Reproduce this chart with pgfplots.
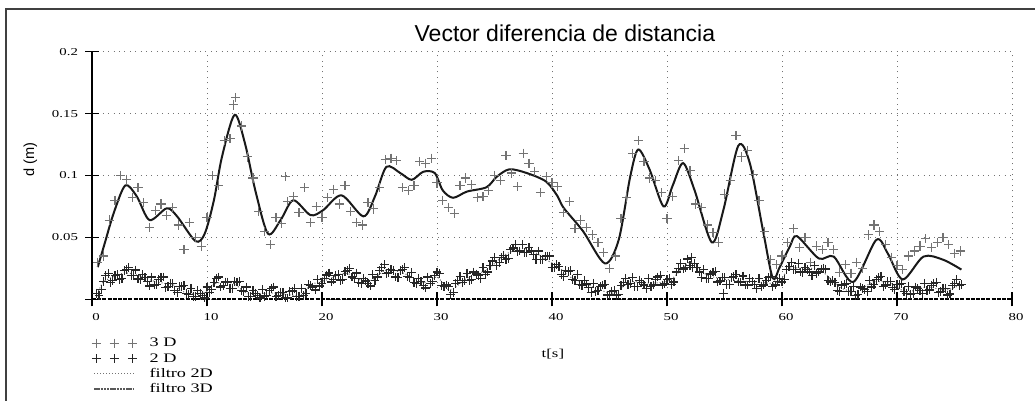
\documentclass[border=0pt]{standalone}
\usepackage{fontspec}
\setmainfont{Liberation Serif}
\newfontfamily\arial{Liberation Sans}
\newfontfamily\legfont[FakeStretch=1.4]{Liberation Serif}
\usepackage{pgfplots}
\usepackage{pgfplotstable}
\pgfplotsset{compat=1.18}
\pgfplotsset{
  crosslegend/.style={legend image code/.code={\draw[##1] plot coordinates {(1pt,0pt) (10pt,0pt) (19pt,0pt)};}},
  dotlegend/.style={legend image code/.code={\draw[black!55, line width=0.5pt, dash pattern=on 0.6pt off 0.9pt] (0pt,0pt) -- (20pt,0pt);}},
  dashlegend/.style={legend image code/.code={\draw[black!65, line width=0.7pt, dash pattern=on 1.2pt off 0.4pt] (0pt,0pt) -- (20pt,0pt);}},
}

% 3D measurements (light crosses)
\pgfplotstableread{
x y
0.5 0.030
1.0 0.035
1.5 0.064
2.0 0.080
2.5 0.100
3.0 0.097
3.5 0.082
4.0 0.090
4.5 0.078
5.0 0.058
5.5 0.072
6.0 0.077
6.5 0.068
7.0 0.074
7.5 0.060
8.0 0.040
8.5 0.062
9.0 0.050
9.5 0.043
10.0 0.066
10.5 0.100
11.0 0.092
11.5 0.128
12.0 0.130
12.3 0.157
12.5 0.163
13.0 0.140
13.5 0.115
14.0 0.098
14.5 0.071
15.0 0.055
15.5 0.044
16.0 0.066
16.5 0.061
16.8 0.099
17.0 0.079
17.5 0.083
18.0 0.070
18.5 0.090
19.0 0.062
19.5 0.075
20.0 0.066
20.5 0.082
21.0 0.089
21.5 0.077
22.0 0.092
22.5 0.071
23.0 0.062
23.5 0.060
24.0 0.078
24.5 0.073
25.0 0.090
25.5 0.113
26.0 0.114
26.5 0.112
27.0 0.090
27.5 0.088
28.0 0.092
28.5 0.111
29.0 0.110
29.5 0.114
30.0 0.094
30.5 0.080
31.0 0.074
31.5 0.069
32.0 0.092
32.5 0.098
33.0 0.093
33.5 0.082
34.0 0.083
34.5 0.088
35.0 0.100
35.5 0.096
36.0 0.116
36.5 0.102
37.0 0.091
37.5 0.118
38.0 0.110
38.5 0.103
39.0 0.086
39.5 0.099
40.0 0.094
40.5 0.091
41.0 0.070
41.5 0.079
42.0 0.057
42.5 0.064
43.0 0.058
43.5 0.052
44.0 0.046
44.5 0.038
45.0 0.025
45.5 0.035
46.0 0.065
46.5 0.082
47.0 0.118
47.5 0.128
48.0 0.111
48.5 0.098
49.0 0.096
49.5 0.086
50.0 0.065
50.5 0.083
51.0 0.112
51.5 0.122
52.0 0.104
52.5 0.077
53.0 0.074
53.5 0.060
54.0 0.054
54.5 0.046
55.0 0.085
55.5 0.096
56.0 0.132
56.5 0.115
57.0 0.120
57.5 0.101
58.0 0.080
58.5 0.055
59.0 0.032
59.5 0.028
60.0 0.035
60.5 0.046
61.0 0.057
61.5 0.042
62.0 0.050
62.5 0.030
63.0 0.043
63.5 0.040
64.0 0.046
64.5 0.040
65.0 0.022
65.5 0.028
66.0 0.021
66.5 0.030
67.0 0.025
67.5 0.052
68.0 0.060
68.5 0.055
69.0 0.044
69.5 0.034
70.0 0.027
70.5 0.024
71.0 0.035
71.5 0.039
72.0 0.043
72.5 0.049
73.0 0.042
73.5 0.046
74.0 0.050
74.5 0.044
75.0 0.037
75.5 0.039
}\tdd

% 2D measurements (dark crosses)
\pgfplotstableread{
x y
0.4 0.005
0.8 0.008
1.2 0.019
1.6 0.0135
2.0 0.019
2.4 0.016
2.8 0.023
3.2 0.0255
3.6 0.019
4.0 0.0164
4.4 0.020
4.8 0.0145
5.2 0.018
5.6 0.012
6.0 0.0174
6.4 0.0097
6.8 0.013
7.2 0.007
7.6 0.0105
8.0 0.011
8.4 0.004
8.8 0.002
9.2 0.007
9.6 0.003
10.0 0.010
10.4 0.008
10.8 0.017
11.2 0.010
11.6 0.014
12.0 0.009
12.4 0.0145
12.8 0.0145
13.2 0.006
13.6 0.002
14.0 0.007
14.4 0.003
14.8 0.008
15.2 0.003
15.6 0.009
16.0 0.002
16.4 0.0057
16.8 0.001
17.2 0.006
17.6 0.0085
18.0 0.002
18.4 0.003
18.8 0.012
19.2 0.010
19.6 0.016
20.0 0.0125
20.4 0.0196
20.8 0.014
21.2 0.0195
21.6 0.0155
22.0 0.0225
22.4 0.025
22.8 0.017
23.2 0.0135
23.6 0.017
24.0 0.0125
24.4 0.020
24.8 0.018
25.2 0.026
25.6 0.0207
26.0 0.024
26.4 0.018
26.8 0.0235
27.2 0.0255
27.6 0.0175
28.0 0.0135
28.4 0.017
28.8 0.0114
29.2 0.018
29.6 0.0145
30.0 0.022
30.4 0.011
30.8 0.0115
31.2 0.004
31.6 0.0125
32.0 0.0185
32.4 0.015
32.8 0.015
33.2 0.022
33.6 0.019
34.0 0.0255
34.4 0.022
34.8 0.031
35.2 0.027
35.6 0.034
36.0 0.032
36.4 0.040
36.8 0.044
37.2 0.039
37.6 0.038
38.0 0.042
38.4 0.036
38.8 0.039
39.2 0.032
39.6 0.035
40.0 0.026
40.4 0.028
40.8 0.020
41.2 0.023
41.6 0.023
42.0 0.0155
42.4 0.012
42.8 0.015
43.2 0.0095
43.6 0.013
44.0 0.007
44.4 0.0115
44.8 0.0035
45.2 0.0065
45.6 0.003
46.0 0.011
46.4 0.017
46.8 0.013
47.2 0.0105
47.6 0.0155
48.0 0.0115
48.4 0.0165
48.8 0.0115
49.2 0.018
49.6 0.0115
50.0 0.016
50.4 0.012
50.8 0.022
51.2 0.029
51.6 0.026
52.0 0.027
52.1 0.034
52.4 0.029
52.8 0.022
53.2 0.024
53.6 0.017
54.0 0.022
54.4 0.014
54.8 0.0175
54.9 0.005
55.2 0.012
55.6 0.0175
56.0 0.020
56.4 0.014
56.8 0.0115
57.2 0.0165
57.6 0.012
58.0 0.0165
58.4 0.0115
58.8 0.0175
59.2 0.0105
59.6 0.0145
60.0 0.014
60.4 0.024
60.8 0.030
61.2 0.024
61.6 0.022
62.0 0.026
62.4 0.022
62.8 0.027
63.2 0.022
63.6 0.025
64.0 0.015
64.4 0.015
64.8 0.007
65.2 0.0115
65.6 0.013
66.0 0.006
66.4 0.003
66.8 0.010
67.2 0.008
67.6 0.015
68.0 0.012
68.4 0.0175
68.8 0.0105
69.2 0.0145
69.6 0.0095
70.0 0.012
70.4 0.013
70.8 0.005
71.2 0.004
71.6 0.010
72.0 0.007
72.4 0.013
72.8 0.0075
73.2 0.013
73.6 0.0055
74.0 0.009
74.4 0.0035
74.8 0.011
75.2 0.016
75.6 0.012
0.6 0.003
1.0 0.0144
1.4 0.0207
1.8 0.0153
2.2 0.020
2.6 0.0165
3.0 0.0238
3.4 0.0193
3.8 0.0237
4.2 0.0157
4.6 0.0173
5.0 0.0108
5.4 0.0115
5.8 0.0157
6.2 0.018
6.6 0.0104
7.0 0.0125
7.4 0.0058
7.8 0.0103
8.2 0.0045
8.6 0.009
9.0 0.002
9.4 0.005
9.8 0.001
10.2 0.0055
10.6 0.0135
11.0 0.018
11.4 0.011
11.8 0.014
12.2 0.0088
12.6 0.014
13.0 0.0073
13.4 0.010
13.8 0.002
14.2 0.005
14.6 0.001
15.0 0.002
15.4 0.007
15.8 0.010
16.2 0.0028
16.6 0.0055
17.0 0.001
17.4 0.0067
17.8 0.0023
18.2 0.0085
18.6 0.005
19.0 0.011
19.4 0.0075
19.8 0.0108
20.2 0.017
20.6 0.0213
21.0 0.0158
21.4 0.020
21.8 0.016
22.2 0.0233
22.6 0.018
23.0 0.0213
23.4 0.0128
23.8 0.0148
24.2 0.0108
24.6 0.0155
25.0 0.023
25.4 0.0278
25.8 0.0214
26.2 0.0235
26.6 0.0178
27.0 0.024
27.4 0.0185
27.8 0.0215
28.2 0.0128
28.6 0.0142
29.0 0.0092
29.4 0.0128
29.8 0.0193
30.2 0.021
30.6 0.0103
31.0 0.0103
31.4 0.0053
31.8 0.015
32.2 0.0138
32.6 0.021
33.0 0.016
33.4 0.0205
33.8 0.0168
34.2 0.0203
34.6 0.0275
35.0 0.0335
35.4 0.0295
35.8 0.0355
36.2 0.033
36.6 0.0415
37.0 0.0385
37.4 0.0445
37.8 0.0375
38.2 0.039
38.6 0.032
39.0 0.032
39.4 0.0345
39.8 0.035
40.2 0.026
40.6 0.0265
41.0 0.0185
41.4 0.0225
41.8 0.0163
42.2 0.0198
42.6 0.011
43.0 0.0123
43.4 0.0058
43.8 0.0065
44.2 0.0103
44.6 0.012
45.0 0.004
45.4 0.0073
45.8 0.004
46.2 0.0135
46.6 0.012
47.0 0.0178
47.4 0.0105
47.8 0.0135
48.2 0.0085
48.6 0.0105
49.0 0.0158
49.4 0.0193
49.8 0.0128
50.2 0.0165
50.6 0.014
51.0 0.025
51.4 0.0245
51.8 0.0325
52.2 0.0255
52.6 0.0255
53.0 0.0175
53.4 0.017
53.8 0.0205
54.2 0.0225
54.6 0.0148
55.0 0.0173
55.4 0.0118
55.8 0.0183
56.2 0.014
56.6 0.0188
57.0 0.0115
57.4 0.0143
57.8 0.0088
58.2 0.0105
58.6 0.0155
59.0 0.0185
59.4 0.0115
59.8 0.017
60.2 0.016
60.6 0.0265
61.0 0.024
61.4 0.029
61.8 0.0215
62.2 0.024
62.6 0.019
63.0 0.021
63.4 0.0245
63.8 0.0245
64.2 0.014
64.6 0.0135
65.0 0.006
65.4 0.0118
65.8 0.0065
66.2 0.0105
66.6 0.004
67.0 0.009
67.4 0.006
67.8 0.010
68.2 0.0158
68.6 0.0185
69.0 0.0115
69.4 0.0145
69.8 0.0078
70.2 0.012
70.6 0.006
71.0 0.0105
71.4 0.0045
71.8 0.0085
72.2 0.0045
72.6 0.0068
73.0 0.0113
73.4 0.0138
73.8 0.0063
74.2 0.0088
74.6 0.0043
75.0 0.013
75.4 0.011
}\ddd

% filtered 2D
\pgfplotstableread{
x y
0.4 0.002
1.0 0.014
2.7 0.021
3.9 0.0196
5.6 0.014
7.1 0.0116
8.2 0.005
9.7 0.005
10.8 0.013
12.3 0.013
13.5 0.005
16.1 0.005
18.1 0.003
19.0 0.0116
20.4 0.0156
22.1 0.021
23.9 0.014
25.6 0.0237
27.1 0.021
28.8 0.0134
30.0 0.018
31.1 0.0075
32.6 0.017
34.3 0.0237
36.1 0.037
37.8 0.041
39.5 0.032
40.7 0.025
41.6 0.018
43.6 0.010
45.3 0.005
46.8 0.014
48.5 0.013
50.3 0.0156
52.0 0.030
53.5 0.0196
55.5 0.0156
57.8 0.014
59.5 0.0134
60.7 0.025
61.6 0.025
63.3 0.0237
65.0 0.010
66.5 0.006
67.9 0.014
69.4 0.013
70.8 0.006
72.6 0.010
74.3 0.0075
75.8 0.013
}\fdd

% filtered 3D
\pgfplotstableread{
x y
0.5 0.026
1.1 0.045
1.9 0.070
2.9 0.092
3.9 0.083
5.0 0.064
6.5 0.0735
7.4 0.067
9.0 0.047
9.8 0.053
10.6 0.080
11.3 0.115
12.4 0.149
13.3 0.126
14.2 0.088
15.3 0.053
16.4 0.064
17.5 0.080
19.0 0.068
20.1 0.072
21.7 0.084
23.6 0.067
24.6 0.083
25.6 0.107
26.8 0.102
27.8 0.0965
28.8 0.103
29.8 0.102
30.5 0.088
31.4 0.082
32.6 0.087
34.3 0.0905
35.2 0.099
36.3 0.105
37.8 0.102
39.5 0.095
40.5 0.083
41.0 0.074
42.7 0.055
44.6 0.029
45.8 0.048
46.8 0.099
47.5 0.121
48.5 0.1045
49.7 0.075
50.5 0.092
51.4 0.110
52.4 0.088
53.9 0.046
54.9 0.072
56.2 0.124
57.2 0.110
58.4 0.053
59.2 0.017
59.8 0.026
60.7 0.043
61.3 0.051
63.2 0.033
64.5 0.0345
66.2 0.014
68.2 0.048
69.2 0.037
70.5 0.016
72.3 0.0345
74.0 0.032
75.6 0.024
}\ftd

\begin{document}
\begin{tikzpicture}
\path[use as bounding box] (0pt,0pt) rectangle (517.5pt,200.5pt);
\draw[black!75, line width=0.9pt] (3pt,0pt) -- (3pt,196pt) -- (517.5pt,196pt);
\begin{axis}[
  at={(46pt,50.85pt)}, anchor=south west,
  scale only axis, width=460pt, height=123.8pt,
  xmin=0, xmax=80, ymin=0, ymax=0.2,
  axis x line=bottom, axis y line=left,
  axis line style={-},
  y axis line style={line width=0.9pt},
  x axis line style={line width=0.8pt, dash pattern=on 2pt off 0.6pt},
  xtick={0,10,...,80},
  ytick={0,0.05,0.1,0.15,0.2},
  yticklabels={,0.05,0.1,0.15,0.2},
  tick align=center, major tick length=7pt,
  tick style={black, line width=0.6pt},
  /pgf/number format/assume math mode=true,
  tick label style={font=\legfont\fontsize{5.3}{6}\selectfont},
  xticklabel style={xshift=2pt},
  grid=major,
  major grid style={black!55, line width=0.5pt, dash pattern=on 0.5pt off 2.2pt},
  clip=false,
  every axis title shift=0pt,
  title={Vector diferencia de distancia},
  title style={at={(axis description cs:0.514,1.0755)}, anchor=center, font=\arial\fontsize{11.5}{13}\selectfont},
  ylabel={d (m)},
  ylabel style={at={(axis description cs:-0.067,0.563)}, anchor=center, font=\arial\fontsize{7.3}{8}\selectfont},
  xlabel={t[s]},
  xlabel style={at={(axis description cs:0.501,-0.221)}, anchor=center, font=\legfont\fontsize{6}{7}\selectfont},
  legend cell align=left,
  legend style={at={(axis description cs:-0.003,-0.137)}, anchor=north west,
    draw=none, fill=none, font=\legfont\fontsize{6.5}{7.5}\selectfont,
    row sep=0pt, inner sep=1pt,
    nodes={text height=5.2pt, text depth=1.6pt, inner sep=0.4pt},
    /tikz/every odd column/.append style={column sep=6pt}},
]
\addplot[only marks, mark=+, mark size=2.3pt, black!55, mark options={line width=0.55pt}, crosslegend]
  table[x=x, y=y] {\tdd};
\addlegendentry{3 D}
\addplot[only marks, mark=+, mark size=2.2pt, black!85, mark options={line width=0.6pt}, crosslegend]
  table[x=x, y=y] {\ddd};
\addlegendentry{2 D}
\addplot[smooth, black!60, line width=0.5pt, densely dotted, dotlegend] table[x=x, y=y] {\fdd};
\addlegendentry{filtro 2D}
\addplot[smooth, black!90, line width=1pt, dashlegend] table[x=x, y=y] {\ftd};
\addlegendentry{filtro 3D}
\end{axis}
\end{tikzpicture}
\end{document}
